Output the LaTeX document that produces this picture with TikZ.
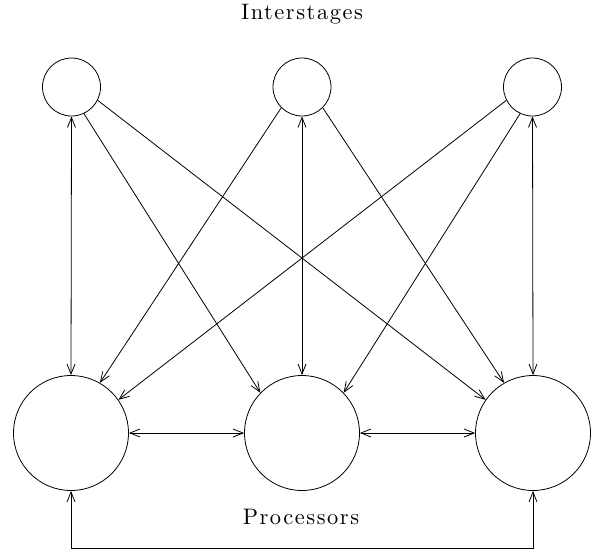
\documentclass[tikz,border=0pt]{standalone}
\usepackage{fontspec}
\newfontfamily\lblfont{lmroman10-regular.otf}[LetterSpace=7]
\usetikzlibrary{arrows.meta}
\begin{document}
\begin{tikzpicture}[x=1pt,y=-1pt,
  small/.style={circle,draw,line width=0.8pt,minimum size=58pt,inner sep=0pt},
  big/.style={circle,draw,line width=0.8pt,minimum size=115pt,inner sep=0pt},
  conn/.style={line width=0.8pt,-{Straight Barb[length=10pt,width=8pt,line width=0.8pt]}},
  dconn/.style={line width=0.8pt,{Straight Barb[length=10pt,width=8pt,line width=0.8pt]}-{Straight Barb[length=10pt,width=8pt,line width=0.8pt]}},
  lbl/.style={font=\lblfont\fontsize{22.4}{27}\selectfont,anchor=base,inner sep=0pt}]
\useasboundingbox (0,0) rectangle (593,552);
\node[lbl] (tit) at (302,19.3) {Interstages};
\node[lbl] (sub) at (301,524.3) {Processors};
\node[small] (tl) at (71.5,87) {};
\node[small] (tm) at (302,87) {};
\node[small] (tr) at (532.5,87) {};
\node[big] (bl) at (71,433) {};
\node[big] (bm) at (302,433) {};
\node[big] (br) at (533,433) {};
\coordinate (cl) at (71,548);
\coordinate (cr) at (533,548);
% vertical
\draw[dconn] (tl.south) -- (bl.north);
\draw[dconn] (tm.south) -- (bm.north);
\draw[dconn] (tr.south) -- (br.north);
% diagonals
\draw[conn] (tl.-65) -- (bm.136);
\draw[conn] (tl.-27) -- (br.145);
\draw[conn] (tm.-135) -- (bl.60);
\draw[conn] (tm.-45) -- (br.120);
\draw[conn] (tr.-153) -- (bl.35);
\draw[conn] (tr.-115) -- (bm.44);
% horizontal
\draw[dconn] (bl.east) -- (bm.west);
\draw[dconn] (bm.east) -- (br.west);
% bottom loop
\draw[dconn] (bl.south) -- (cl) -- (cr) -- (br.south);
\end{tikzpicture}
\end{document}
